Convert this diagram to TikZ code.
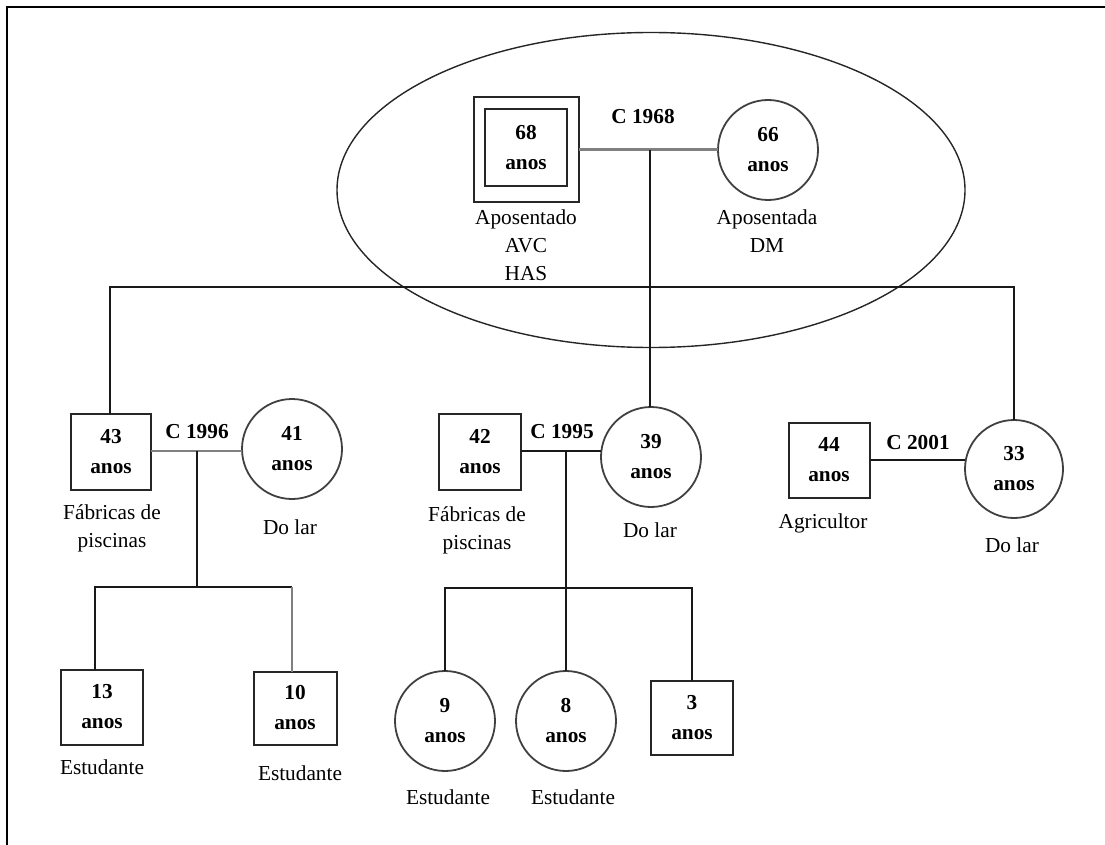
\documentclass[tikz,border=0pt]{standalone}
\usepackage{fontspec}
\usetikzlibrary{shapes.geometric}
\setmainfont{Liberation Serif}
\newcommand\agefont{\fontsize{21.3}{30}\selectfont\bfseries}
\newcommand\labfont{\fontsize{21.3}{28}\selectfont}
\begin{document}
\begin{tikzpicture}[x=1pt,y=-1pt,
  every node/.style={inner sep=0pt, outer sep=0pt},
  sq/.style={rectangle, draw=black!85, line width=2pt, align=center, font=\agefont},
  ci/.style={circle, draw=black!75, line width=1.8pt, minimum size=100pt, align=center, font=\agefont},
  lab/.style={align=center, font=\labfont},
  yr/.style={font=\agefont},
  ln/.style={line width=1.7pt, draw=black!90},
  gln/.style={line width=3pt, draw=black!50}]
\useasboundingbox (0,0) rectangle (1105,845);
% frame
\draw[line width=2.6pt] (7,846) -- (7,7) -- (1106,7);
% household ellipse
\node[ellipse, draw=black!85, line width=1.4pt, minimum width=628pt, minimum height=315pt] (house) at (651,190) {};
% grandparents
\node[sq, minimum width=105pt, minimum height=105pt] (f68o) at (526,150) {};
\node[sq, minimum width=82pt, minimum height=77pt] (f68) at (526,148) {68\\anos};
\node[ci] (m66) at (768,150) {66\\anos};
\node[yr] (y1968) at (643,117) {C 1968};
\node[lab] (l68) at (526,245) {Aposentado\\AVC\\HAS};
\node[lab] (l66) at (767,231) {Aposentada\\DM};
% children of grandparents
\node[sq, minimum width=80pt, minimum height=76pt] (s43) at (111,452) {43\\anos};
\node[ci] (m41) at (292,449) {41\\anos};
\node[yr] (y1996) at (197,432) {C 1996};
\node[lab] (l43) at (112,528) {Fábricas de\\piscinas};
\node[lab] (l41) at (290,527) {Do lar};

\node[sq, minimum width=82pt, minimum height=76pt] (s42) at (480,452) {42\\anos};
\node[ci] (m39) at (651,457) {39\\anos};
\node[yr] (y1995) at (562,432) {C 1995};
\node[lab] (l42) at (477,530) {Fábricas de\\piscinas};
\node[lab] (l39) at (650,530) {Do lar};

\node[sq, minimum width=81pt, minimum height=75pt] (s44) at (829,460) {44\\anos};
\node[ci, minimum size=98pt] (m33) at (1014,469) {33\\anos};
\node[yr] (y2001) at (918,443) {C 2001};
\node[lab] (l44) at (823,523) {Agricultor};
\node[lab] (l33) at (1012,545) {Do lar};

% grandchildren
\node[sq, minimum width=82pt, minimum height=75pt] (s13) at (102,707) {13\\anos};
\node[sq, minimum width=83pt, minimum height=73pt] (s10) at (295,708) {10\\anos};
\node[lab] (l13) at (102,767) {Estudante};
\node[lab] (l10) at (300,773) {Estudante};

\node[ci] (m9) at (445,721) {9\\anos};
\node[ci] (m8) at (566,721) {8\\anos};
\node[sq, minimum width=82pt, minimum height=74pt] (s3) at (692,718) {3\\anos};
\node[lab] (l9) at (448,797) {Estudante};
\node[lab] (l8) at (573,797) {Estudante};

% coordinates
\coordinate (u1) at (650,150);
\coordinate (sl) at (110,287);
\coordinate (sr) at (1014,287);
\coordinate (u2) at (197,451);
\coordinate (b2) at (197,587);
\coordinate (k13) at (95,587);
\coordinate (k10) at (292,587);
\coordinate (u3) at (566,451);
\coordinate (b3) at (566,588);
\coordinate (k9) at (445,588);
\coordinate (k3) at (692,588);

% marriage 1968
\draw[gln] (f68o.east) -- (m66.west);
\draw[ln] (u1) -- (u1 |- m39.north);
% sibship line
\draw[ln] (s43.north -| sl) -- (sl) -- (sr) -- (sr |- m33.north);
% marriage 1996
\draw[gln, line width=2.4pt] (s43.east |- u2) -- (m41.west |- u2);
\draw[ln] (u2) -- (b2);
\draw[ln] (k13 |- s13.north) -- (k13) -- (k10);
\draw[gln, line width=2.6pt] (k10) -- (k10 |- s10.north);
% marriage 1995
\draw[ln] (s42.east |- u3) -- (m39.west |- u3);
\draw[ln] (u3) -- (b3);
\draw[ln] (k9 |- m9.north) -- (k9) -- (k3) -- (k3 |- s3.north);
\draw[ln] (b3) -- (b3 |- m8.north);
% marriage 2001
\draw[ln] (s44.east) -- (m33.west |- s44.east);
\end{tikzpicture}
\end{document}
